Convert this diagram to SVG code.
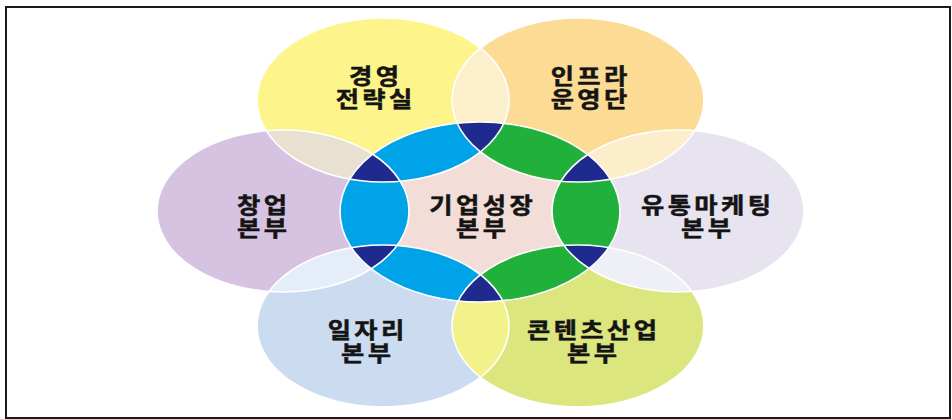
<svg xmlns="http://www.w3.org/2000/svg" width="952" height="419" viewBox="0 0 952 419">
<style>
.t{font-family:"Noto Sans CJK KR","Noto Sans",sans-serif;font-weight:bold;font-size:22px;letter-spacing:3px;fill:#141414;stroke:#141414;stroke-width:0.5;text-anchor:middle}
.wl{fill:none;stroke:#ffffff;stroke-width:1.6}
</style>
<defs>
<ellipse id="eTL" cx="383" cy="100" rx="126" ry="82"/>
<ellipse id="eTR" cx="578" cy="100" rx="126" ry="82"/>
<ellipse id="eL" cx="283" cy="211" rx="126" ry="81"/>
<ellipse id="eR" cx="678" cy="211" rx="126" ry="81"/>
<ellipse id="eBL" cx="383" cy="326" rx="126" ry="81"/>
<ellipse id="eBR" cx="578" cy="326" rx="126" ry="81"/>
<ellipse id="eC" cx="480" cy="212" rx="140" ry="90"/>
<clipPath id="cTL"><use href="#eTL"/></clipPath>
<clipPath id="cTR"><use href="#eTR"/></clipPath>
<clipPath id="cL"><use href="#eL"/></clipPath>
<clipPath id="cR"><use href="#eR"/></clipPath>
<clipPath id="cBL"><use href="#eBL"/></clipPath>
<clipPath id="cBR"><use href="#eBR"/></clipPath>
<clipPath id="cC"><use href="#eC"/></clipPath>
</defs>
<rect x="6" y="7" width="944" height="411" fill="#ffffff" stroke="#1a1a1a" stroke-width="2"/>
<g id="node-gyeongyeong">
<use href="#eTL" fill="#fdf58b"/>
</g>
<g id="node-infra">
<use href="#eTR" fill="#fcdb94"/>
</g>
<g id="node-changup">
<use href="#eL" fill="#d6c2e1"/>
</g>
<g id="node-yutong">
<use href="#eR" fill="#e7e3ef"/>
</g>
<g id="node-iljari">
<use href="#eBL" fill="#cbdcf1"/>
</g>
<g id="node-contents">
<use href="#eBR" fill="#dbe67f"/>
</g>
<g id="overlaps">
<g clip-path="url(#cTL)"><use href="#eTR" fill="#fcefcc"/></g>
<g clip-path="url(#cTL)"><use href="#eL" fill="#e8e1d2"/></g>
<g clip-path="url(#cL)"><use href="#eBL" fill="#e5edf8"/></g>
<g clip-path="url(#cTR)"><use href="#eR" fill="#fdeecb"/></g>
<g clip-path="url(#cR)"><use href="#eBR" fill="#eff0f5"/></g>
<g clip-path="url(#cBL)"><use href="#eBR" fill="#f3f28a"/></g>
</g>
<g id="node-center">
<use href="#eC" fill="#f3ddd8"/>
<g clip-path="url(#cC)">
<use href="#eTL" fill="#00a3e8"/>
<use href="#eL" fill="#00a3e8"/>
<use href="#eBL" fill="#00a3e8"/>
<use href="#eTR" fill="#22b03c"/>
<use href="#eR" fill="#22b03c"/>
<use href="#eBR" fill="#22b03c"/>
<g clip-path="url(#cTL)"><use href="#eTR" fill="#1e2a8e"/><use href="#eL" fill="#1e2a8e"/></g>
<g clip-path="url(#cBL)"><use href="#eL" fill="#1e2a8e"/><use href="#eBR" fill="#1e2a8e"/></g>
<g clip-path="url(#cR)"><use href="#eTR" fill="#1e2a8e"/><use href="#eBR" fill="#1e2a8e"/></g>
</g>
</g>
<g id="outlines">
<use href="#eTL" class="wl"/>
<use href="#eTR" class="wl"/>
<use href="#eL" class="wl"/>
<use href="#eR" class="wl"/>
<use href="#eBL" class="wl"/>
<use href="#eBR" class="wl"/>
<use href="#eC" class="wl"/>
</g>
<g id="labels">
<text class="t" transform="translate(375.7 84) scale(1.15 1)">경영</text>
<text class="t" transform="translate(375.7 107) scale(1.15 1)">전략실</text>
<text class="t" transform="translate(590.7 84) scale(1.15 1)">인프라</text>
<text class="t" transform="translate(590.7 107) scale(1.15 1)">운영단</text>
<text class="t" transform="translate(263.7 213) scale(1.15 1)">창업</text>
<text class="t" transform="translate(263.7 236) scale(1.15 1)">본부</text>
<text class="t" transform="translate(482.7 213) scale(1.15 1)">기업성장</text>
<text class="t" transform="translate(482.7 236) scale(1.15 1)">본부</text>
<text class="t" transform="translate(707.7 213) scale(1.15 1)">유통마케팅</text>
<text class="t" transform="translate(707.7 236) scale(1.15 1)">본부</text>
<text class="t" transform="translate(367.7 338) scale(1.15 1)">일자리</text>
<text class="t" transform="translate(367.7 361) scale(1.15 1)">본부</text>
<text class="t" transform="translate(593.7 338) scale(1.15 1)">콘텐츠산업</text>
<text class="t" transform="translate(593.7 361) scale(1.15 1)">본부</text>
</g>
</svg>
